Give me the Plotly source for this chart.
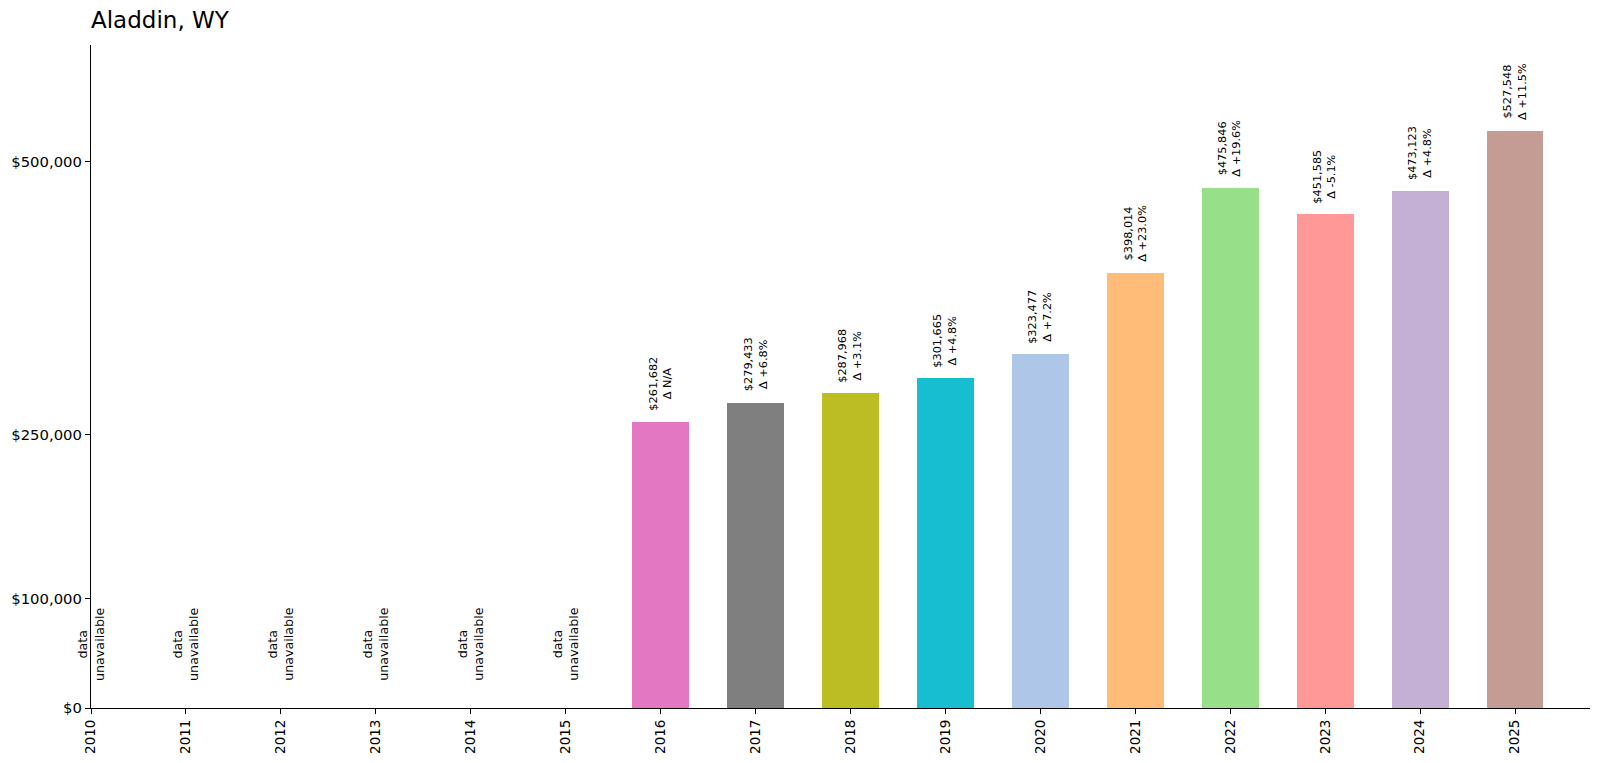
import plotly.graph_objects as go

# home value data, Aladdin WY
all_years = list(range(2010, 2026))
years = [2016, 2017, 2018, 2019, 2020, 2021, 2022, 2023, 2024, 2025]
values = [261682, 279433, 287968, 301665, 323477, 398014, 475846, 451585, 473123, 527548]
missing_years = [2010, 2011, 2012, 2013, 2014, 2015]
colors = ['#e377c2', '#7f7f7f', '#bcbd22', '#17becf', '#aec7e8',
          '#ffbb78', '#98df8a', '#ff9896', '#c5b0d5', '#c49c94']
ytick_vals = [0, 100000, 250000, 500000]
ytick_text = ['$0', '$100,000', '$250,000', '$500,000']

FONT = 'DejaVu Sans'

fig = go.Figure()
fig.add_trace(go.Bar(x=years, y=values, width=0.6, marker_color=colors,
                     marker_line_width=0, showlegend=False, hoverinfo='x+y'))

# value + change labels above bars
prev = None
for yr, v in zip(years, values):
    if prev is None:
        delta = 'Δ N/A'
    else:
        pct = (v / prev - 1) * 100
        delta = f'Δ {pct:+.1f}%'
    prev = v
    fig.add_annotation(x=yr, y=v, text=f'${v:,}<br>{delta}', textangle=-90,
                       showarrow=False, xanchor='center', yanchor='bottom',
                       yshift=9, align='center',
                       font=dict(family=FONT, size=11.3, color='black'))

for yr in missing_years:
    fig.add_annotation(x=yr, y=0, text='data<br>unavailable', textangle=-90,
                       showarrow=False, xanchor='center', yanchor='bottom',
                       yshift=25, align='center',
                       font=dict(family=FONT, size=12.7, color='black'))

fig.update_layout(
    width=1600, height=763,
    margin=dict(l=91, r=10, t=45, b=55),
    plot_bgcolor='white', paper_bgcolor='white',
    font=dict(family=FONT, color='black'),
    title=dict(text='Aladdin, WY', x=0, xref='paper', xanchor='left',
               y=0.984, yref='container', yanchor='top',
               font=dict(family=FONT, size=23, color='black')),
    xaxis=dict(range=[2010, 2025.79], tickmode='array', tickvals=all_years,
               ticktext=[str(y) for y in all_years], tickangle=-90,
               showgrid=False, zeroline=False, showline=True, linecolor='black',
               linewidth=1.3, ticks='outside', ticklen=5, tickcolor='black',
               tickfont=dict(family=FONT, size=13.5, color='black')),
    yaxis=dict(range=[0, max(values) * 1.15], tickmode='array', tickvals=ytick_vals,
               ticktext=ytick_text, showgrid=False, zeroline=False, showline=True,
               linecolor='black', linewidth=1.3, ticks='outside', ticklen=5,
               tickcolor='black', tickfont=dict(family=FONT, size=14.8, color='black')),
    bargap=0,
)

# drop the page's default body margin so the figure sits at 0,0
fig.write_html('out.html', config={'displayModeBar': False},
               post_script="document.body.style.margin='0';")
